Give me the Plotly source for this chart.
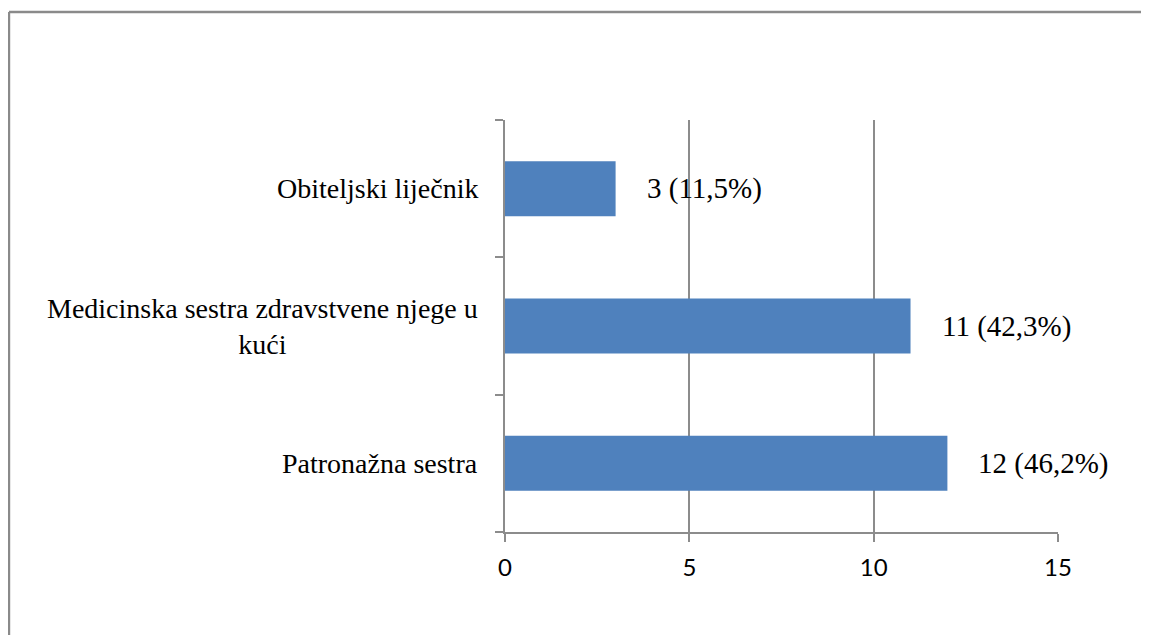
import plotly.graph_objects as go

categories = ["Patronažna sestra", "Medicinska sestra zdravstvene njege u<br>kući", "Obiteljski liječnik"]
values = [12, 11, 3]
labels = ["12 (46,2%)", "11 (42,3%)", "3 (11,5%)"]
x_ticks = [0, 5, 10, 15]

grid = "#8c8c8c"
fig = go.Figure()
fig.add_trace(go.Bar(
    y=categories, x=values, orientation="h",
    marker=dict(color="#4f81bd", line=dict(width=0)),
    width=0.4,
))

for c, v, t in zip(categories, values, labels):
    fig.add_annotation(x=v, y=c, text=t, showarrow=False, xanchor="left",
                       xshift=29, font=dict(family="Liberation Serif", size=29, color="black"))
for c in categories:
    fig.add_annotation(x=0, y=c, text=c, showarrow=False, xanchor="right", align="center",
                       xshift=-25, font=dict(family="Liberation Serif", size=28, color="black"))

# outer chart border (only top and left edges are visible in the frame)
fig.add_shape(type="line", xref="paper", yref="paper", x0=-0.897, y0=1.262, x1=1.3, y1=1.262,
              line=dict(color="#8a8a8a", width=2.5), layer="below")
fig.add_shape(type="line", xref="paper", yref="paper", x0=-0.897, y0=1.262, x1=-0.897, y1=-0.4,
              line=dict(color="#8a8a8a", width=2.5), layer="below")

fig.update_layout(
    width=1141, height=627,
    margin=dict(l=497, r=91, t=112, b=103),
    paper_bgcolor="white", plot_bgcolor="white",
    showlegend=False,
    xaxis=dict(range=[0, 15], tickvals=x_ticks, showgrid=True, gridcolor=grid, gridwidth=1.5,
               showline=True, linecolor=grid, linewidth=1.5, ticks="outside", ticklen=8,
               tickcolor=grid, tickwidth=1.5, zeroline=False, ticklabelstandoff=5,
               tickfont=dict(family="Lato", size=24, color="black")),
    yaxis=dict(categoryorder="array", categoryarray=categories, range=[-0.5, 2.5],
               showticklabels=False, showline=True, linecolor=grid, linewidth=1.5,
               ticks="outside", ticklen=8, tickcolor=grid, tickwidth=1.5, tickson="boundaries",
               showgrid=False, zeroline=False),
)
fig.write_html("out.html",
               post_script="document.documentElement.style.overflow='hidden';document.body.style.overflow='hidden';")
